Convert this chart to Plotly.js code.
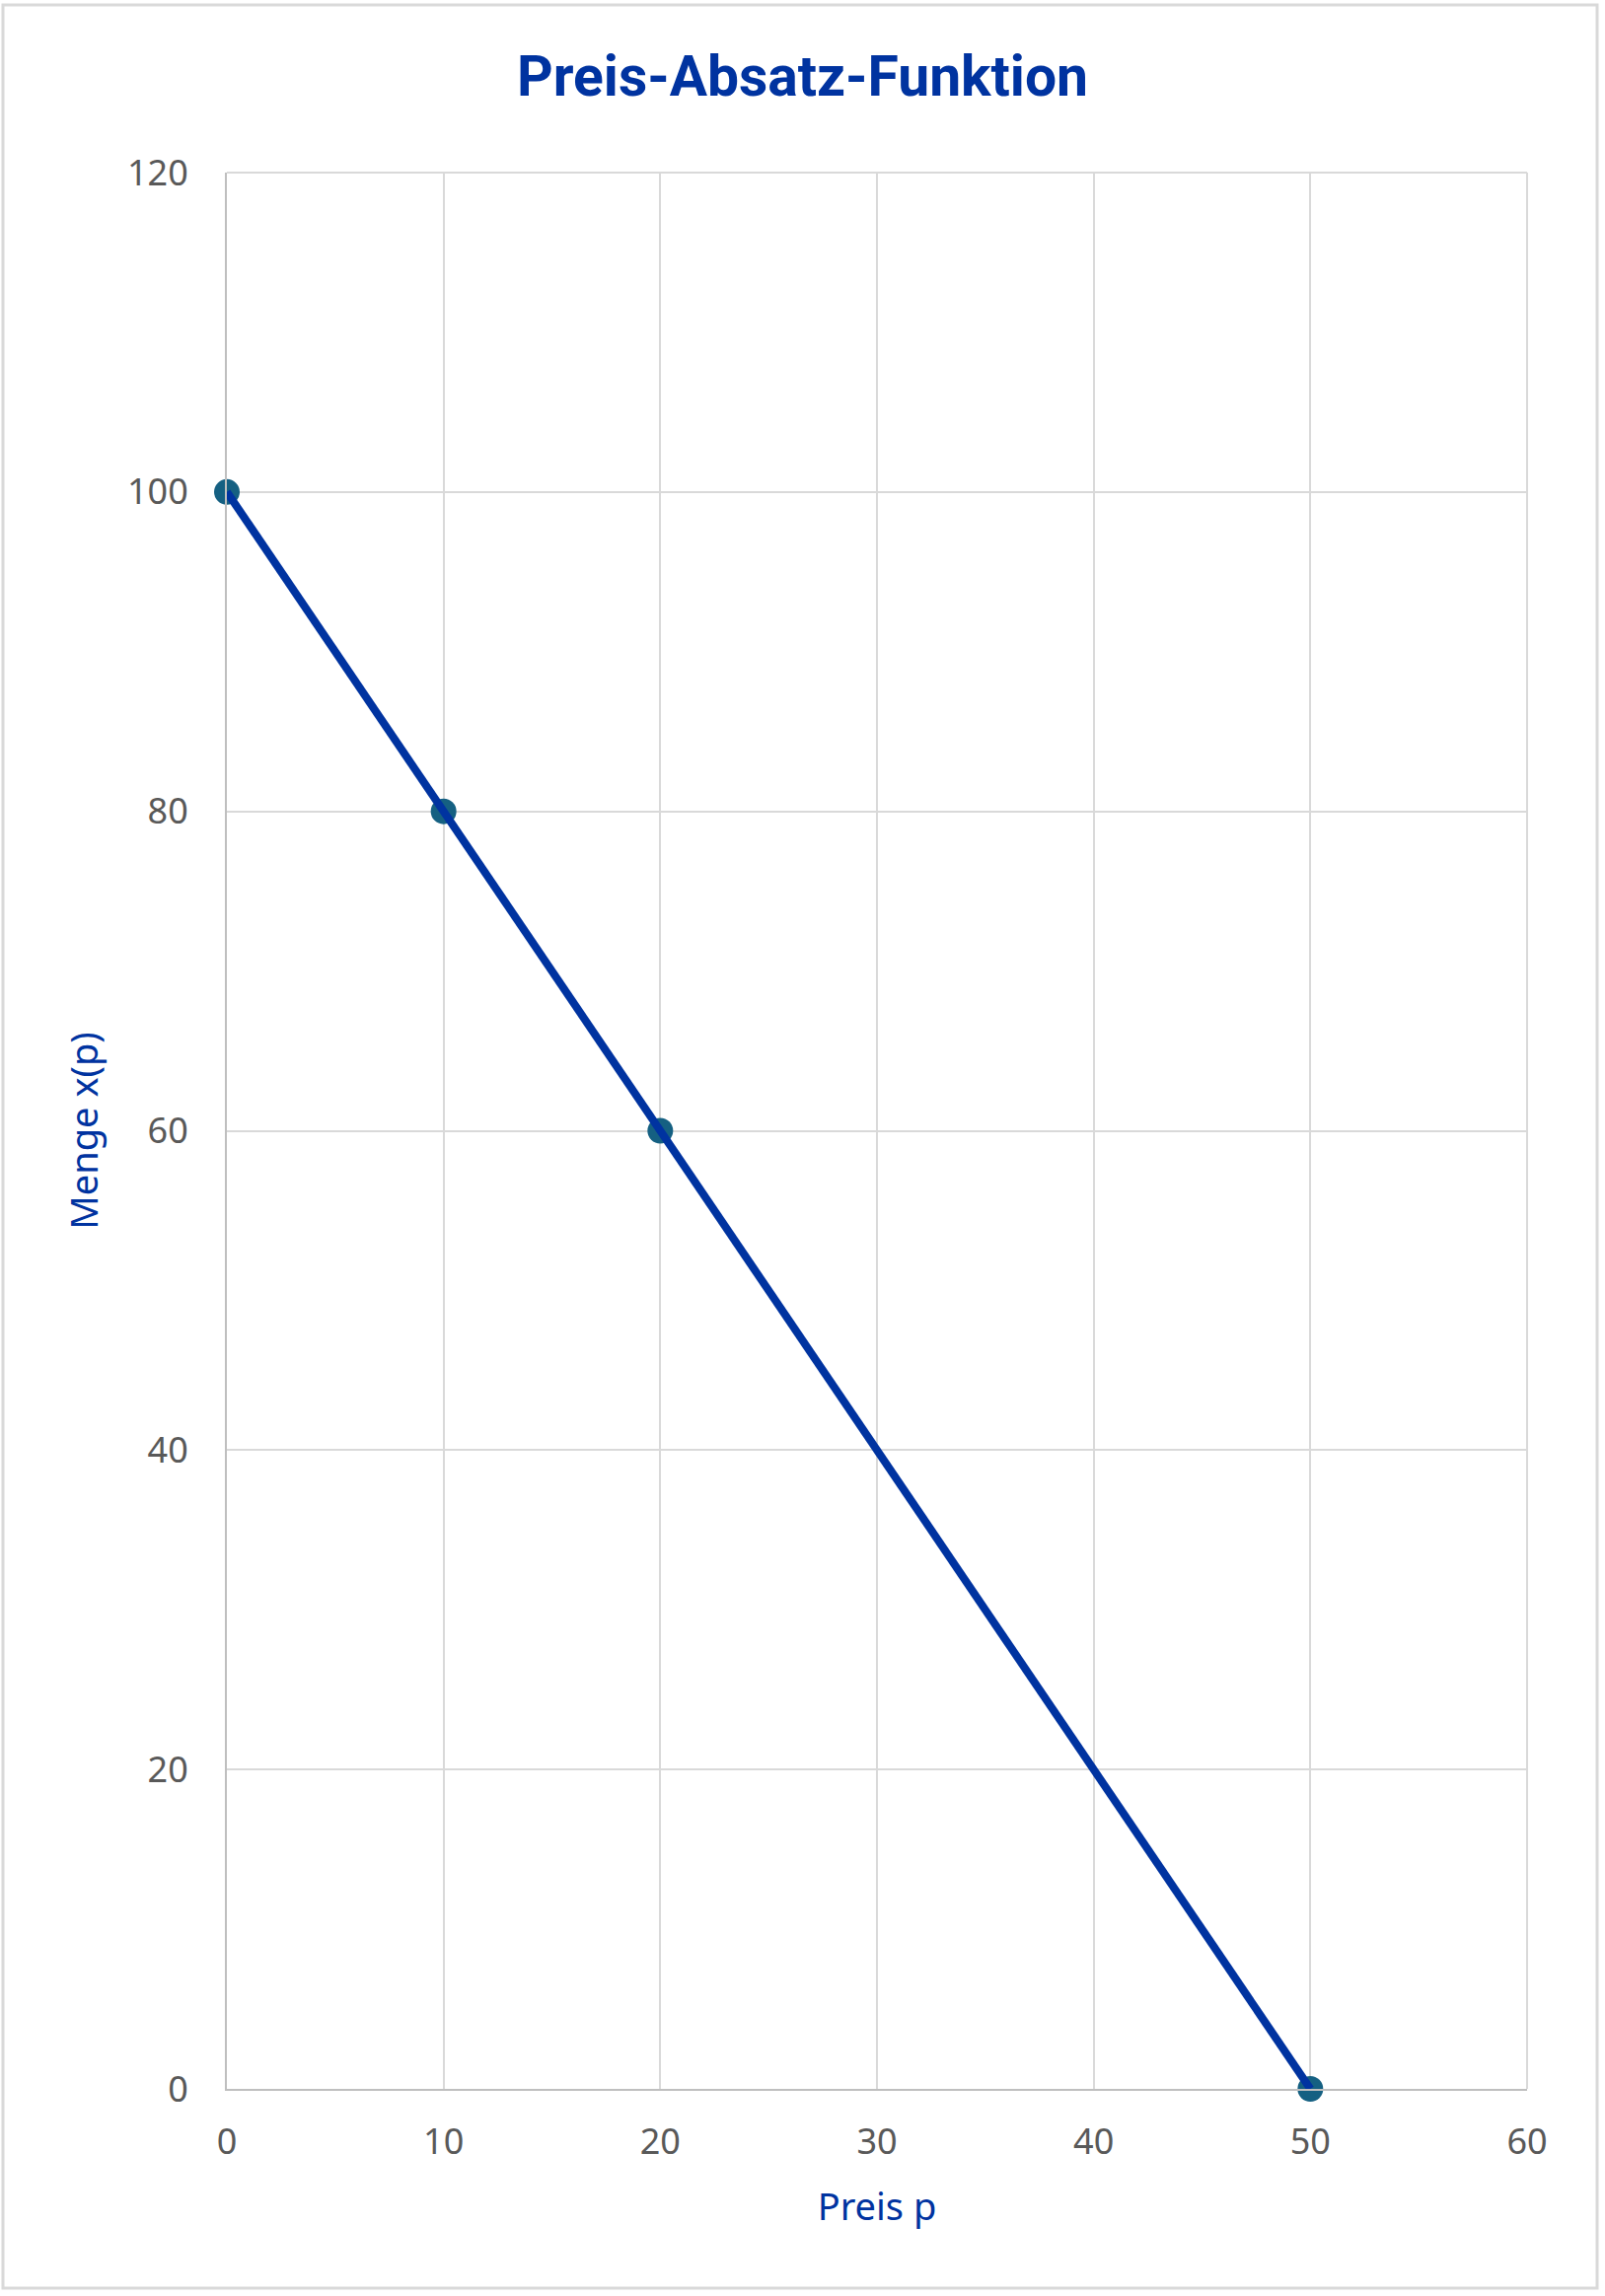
<!DOCTYPE html>
<html>
<head>
<meta charset="utf-8">
<script src="https://cdn.plot.ly/plotly-3.0.1.min.js"></script>
<style>
html,body{margin:0;padding:0;background:#fff;}
#chart{width:1627px;height:2328px;}
</style>
</head>
<body>
<div id="chart"></div>
<script>
// Data
const preis = [0, 10, 20, 50];
const menge = [100, 80, 60, 0];
const xTicks = [0, 10, 20, 30, 40, 50, 60];
const yTicks = [0, 20, 40, 60, 80, 100, 120];
const chartTitle = "Preis-Absatz-Funktion";
const xTitle = "Preis p";
const yTitle = "Menge x(p)";

const W = 1627, H = 2328;
const margin = {l: 230, r: 79, t: 175, b: 210};
const pw = W - margin.l - margin.r, ph = H - margin.t - margin.b;

const blue = "#0033A0";
const markerTeal = "#156082";
const tickFont = {family: "Noto Sans, Open Sans, sans-serif", size: 36, color: "#595959"};
const axisTitleFont = {family: "Noto Sans, Open Sans, sans-serif", size: 38, color: blue};

const traces = [
  {x: preis, y: menge, type: "scatter", mode: "markers", cliponaxis: false,
   marker: {size: 26, color: markerTeal}, hoverinfo: "x+y", showlegend: false},
  {x: preis, y: menge, type: "scatter", mode: "lines", cliponaxis: false,
   line: {color: blue, width: 8}, hoverinfo: "skip", showlegend: false}
];

const layout = {
  width: W, height: H,
  margin: margin,
  paper_bgcolor: "#fff", plot_bgcolor: "#fff",
  showlegend: false,
  title: {text: "<b>" + chartTitle + "</b>", x: 0.5, xref: "container", xanchor: "center",
          y: 1 - 77 / H, yref: "container", yanchor: "middle",
          font: {family: "Liberation Sans Narrow, Roboto, sans-serif", size: 57, color: blue}},
  xaxis: {
    range: [0, 60], tickvals: xTicks, ticktext: xTicks.map(String),
    showgrid: true, gridcolor: "#d9d9d9", gridwidth: 2,
    showline: true, linecolor: "#bfbfbf", linewidth: 2, mirror: false,
    zeroline: false, ticks: "", tickfont: tickFont, ticklabelstandoff: 21,
    title: {text: xTitle, font: axisTitleFont, standoff: 30}
  },
  yaxis: {
    range: [0, 120], tickvals: yTicks, ticktext: yTicks.map(String),
    showgrid: true, gridcolor: "#d9d9d9", gridwidth: 2,
    showline: true, linecolor: "#bfbfbf", linewidth: 2,
    zeroline: false, ticks: "", tickfont: tickFont, ticklabelstandoff: 30,
    title: {text: yTitle, font: axisTitleFont, standoff: 18}
  },
  shapes: [
    {type: "rect", xref: "paper", yref: "paper",
     x0: (3 - margin.l) / pw, x1: (1619 - margin.l) / pw,
     y0: (H - 2320 - margin.b) / ph, y1: (H - 5 - margin.b) / ph,
     line: {color: "#d9d9d9", width: 3}, fillcolor: "rgba(0,0,0,0)", layer: "below"},
    {type: "line", xref: "paper", yref: "paper", x0: 0, x1: 1, y0: 1, y1: 1,
     line: {color: "#d9d9d9", width: 2}, layer: "below"},
    {type: "line", xref: "paper", yref: "paper", x0: 1, x1: 1, y0: 0, y1: 1,
     line: {color: "#d9d9d9", width: 2}, layer: "below"}
  ]
};

Plotly.newPlot("chart", traces, layout, {displayModeBar: false, staticPlot: true});
</script>
</body>
</html>
